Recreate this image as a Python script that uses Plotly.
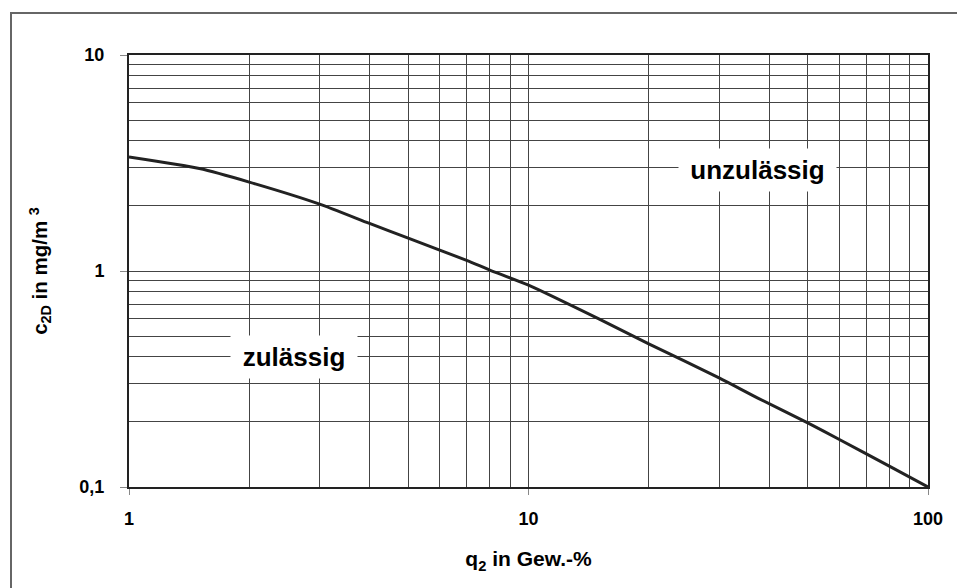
# -*- coding: utf-8 -*-
import math

import plotly.graph_objects as go

# Grenzkurve c2D ueber q2 (log-log)
q2_values = [1, 1.5, 2, 3, 4, 5, 7, 8, 10, 15, 20, 30, 37.5, 50, 60, 80, 100]
c2d_values = [3.37, 2.98, 2.58, 2.04, 1.66, 1.42, 1.12, 1.01, 0.86, 0.6, 0.46, 0.32, 0.258,
              0.198, 0.166, 0.125, 0.1]

# Achsenbeschriftungen
x_tickvals = [1, 10, 100]
x_ticktext = ['1', '10', '100']
y_tickvals = [0.1, 1, 10]
y_ticktext = ['0,1', '1', '10']
x_minor = [2, 3, 4, 5, 6, 7, 8, 9, 20, 30, 40, 50, 60, 70, 80, 90]
y_minor = [0.2, 0.3, 0.4, 0.5, 0.6, 0.7, 0.8, 0.9, 2, 3, 4, 5, 6, 7, 8, 9]

# Bereichsbezeichnungen
area_labels = ['unzulässig', 'zulässig']
area_x = [37.5, 2.59]
area_y = [2.94, 0.40]

font_ = 'Arial, Liberation Sans, sans-serif'
grid_color = '#444444'

fig = go.Figure()
fig.add_trace(go.Scatter(x=q2_values, y=c2d_values,
                         mode='lines',
                         line=dict(color='#222222', width=3, shape='spline', smoothing=0.6),
                         showlegend=False, hoverinfo='skip'))

# Annotationen auf Log-Achsen brauchen log10-Koordinaten
box_w = [157, 126]
for text_, x_, y_, w_ in zip(area_labels, area_x, area_y, box_w):
    fig.add_annotation(x=math.log10(x_), y=math.log10(y_), xref='x', yref='y',
                       text='<b>%s</b>' % text_,
                       showarrow=False, bgcolor='white', borderpad=0,
                       width=w_, height=42, align='center', valign='middle',
                       font=dict(family=font_, size=26, color='black'))

# Plotbereich in Pixeln
L, R, T, B = 121, 920, 47, 479
W, H = 965, 588
pw, ph = R - L, B - T

# Rahmen um die ganze Grafik
fig.add_shape(type='rect', xref='paper', yref='paper',
              x0=(3 - L) / pw, x1=(963 - L) / pw,
              y0=(B - 595) / ph, y1=(B - 5) / ph,
              line=dict(color='#666666', width=2), layer='below')

fig.update_layout(width=W, height=H,
                  margin=dict(l=L, r=W - R, t=T, b=H - B),
                  paper_bgcolor='white', plot_bgcolor='white',
                  font=dict(family=font_, color='black'))

fig.update_xaxes(type='log', range=[0, 2],
                 tickvals=x_tickvals, ticktext=x_ticktext,
                 tickfont=dict(family=font_, size=18, weight='bold'),
                 ticks='outside', ticklen=6, tickcolor='#888888', ticklabelstandoff=8,
                 showgrid=True, gridcolor=grid_color, gridwidth=1,
                 minor=dict(tickvals=x_minor, showgrid=True, gridcolor=grid_color, gridwidth=1),
                 showline=True, linewidth=2, linecolor='#222222', mirror=True,
                 zeroline=False,
                 title=dict(text='<b>q<sub>2</sub> in Gew.-%</b>', standoff=24,
                            font=dict(family=font_, size=21)))

fig.update_yaxes(type='log', range=[-1, 1],
                 tickvals=y_tickvals, ticktext=y_ticktext,
                 tickfont=dict(family=font_, size=18, weight='bold'),
                 ticks='outside', ticklen=7, tickcolor='#888888', ticklabelstandoff=12,
                 showgrid=True, gridcolor=grid_color, gridwidth=1,
                 minor=dict(tickvals=y_minor, showgrid=True, gridcolor=grid_color, gridwidth=1),
                 showline=True, linewidth=2, linecolor='#222222', mirror=True,
                 zeroline=False,
                 title=dict(text='<b>c<sub>2D</sub> in mg/m <sup>3</sup></b>', standoff=26,
                            font=dict(family=font_, size=20.5)))

fig.write_html("out.html")
